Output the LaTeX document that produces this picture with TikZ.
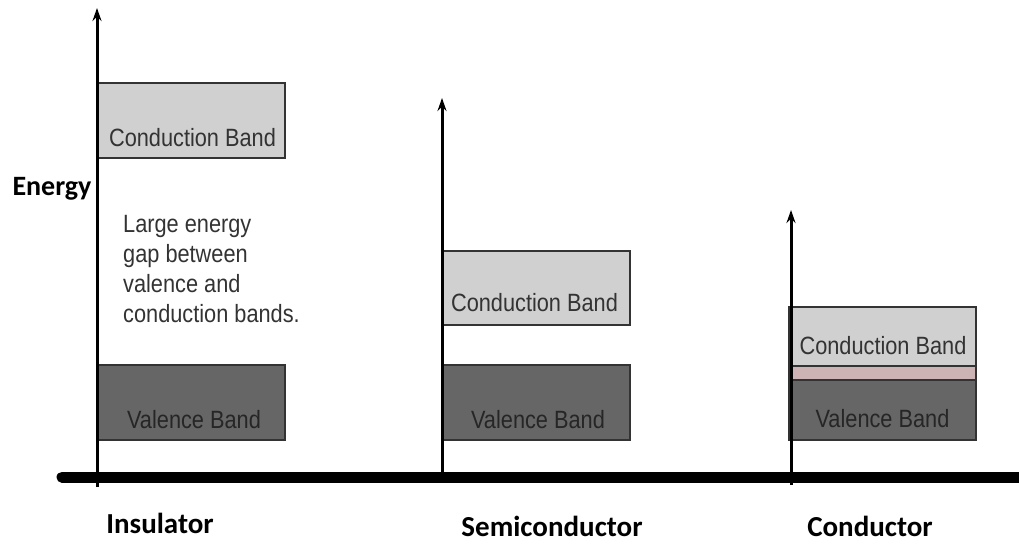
\documentclass[tikz,border=0pt]{standalone}
\usepackage{fontspec}
\newfontfamily\bandfont[FakeStretch=0.87]{Liberation Sans}
\newfontfamily\namefont{Carlito}
\usetikzlibrary{arrows.meta}
\definecolor{cbfill}{HTML}{D0D0D0}
\definecolor{vbfill}{HTML}{666666}
\definecolor{bandedge}{HTML}{333333}
\definecolor{overlap}{HTML}{CDB3B3}
\begin{document}
\begin{tikzpicture}[x=1pt,y=-1pt,
  band/.style={draw=bandedge,line width=1.3pt,inner sep=0pt},
  axis/.style={line width=3pt,-{Stealth[length=13pt,width=9pt]}},
  bandtext/.style={anchor=base,font=\bandfont\fontsize{25}{25}\selectfont},
  sidename/.style={anchor=base,inner sep=0pt,font=\namefont\bfseries\fontsize{29}{29}\selectfont}]
\useasboundingbox (0,0) rectangle (1019,544);

% bands
\node[band,fill=cbfill,minimum width=187pt,minimum height=75pt] (insCB) at (191.5,120.5) {};
\node[band,fill=vbfill,minimum width=187pt,minimum height=75pt] (insVB) at (191.5,402.5) {};
\node[band,fill=cbfill,minimum width=188pt,minimum height=74pt] (semCB) at (536,288) {};
\node[band,fill=vbfill,minimum width=188pt,minimum height=75pt] (semVB) at (536,402.5) {};
\node[band,fill=cbfill,minimum width=187pt,minimum height=59pt] (conCB) at (882.5,336.5) {};
\node[band,fill=overlap,minimum width=187pt,minimum height=14pt] (conOV) at (882.5,373) {};
\node[band,fill=vbfill,minimum width=187pt,minimum height=60pt] (conVB) at (882.5,410) {};

\node[bandtext,text=bandedge] (insCBtxt) at (192.5,146) {Conduction Band};
\node[bandtext,text=black!85] (insVBtxt) at (194,428) {Valence Band};
\node[bandtext,text=bandedge] (semCBtxt) at (534.5,311) {Conduction Band};
\node[bandtext,text=black!85] (semVBtxt) at (538,428) {Valence Band};
\node[bandtext,text=bandedge] (conCBtxt) at (883,354) {Conduction Band};
\node[bandtext,text=black!85] (conVBtxt) at (882.5,427) {Valence Band};

\node[text=black!80,align=left,anchor=north west,inner sep=0pt,
  font=\bandfont\fontsize{25}{30}\selectfont] (gap) at (123,215)
  {Large energy\\gap between\\valence and\\conduction bands.};

% axes
\coordinate (base0) at (62,477);
\coordinate (base1) at (1019,477);
\draw[line width=11pt,line cap=round] (base0) -- (base1);

\coordinate (ins0) at (97,487);
\coordinate (ins1) at (97,8);
\coordinate (sem0) at (442,477);
\coordinate (sem1) at (442,98);
\coordinate (con0) at (791,485);
\coordinate (con1) at (791,210);
\draw[axis] (ins0) -- (ins1);
\draw[axis] (sem0) -- (sem1);
\draw[axis] (con0) -- (con1);

% names
\node[sidename,font=\namefont\bfseries\fontsize{28}{28}\selectfont] (energy) at (52,195) {Energy};
\node[sidename] (insName) at (160,533) {Insulator};
\node[sidename] (semName) at (552,536) {Semiconductor};
\node[sidename] (conName) at (870,536) {Conductor};
\end{tikzpicture}
\end{document}
